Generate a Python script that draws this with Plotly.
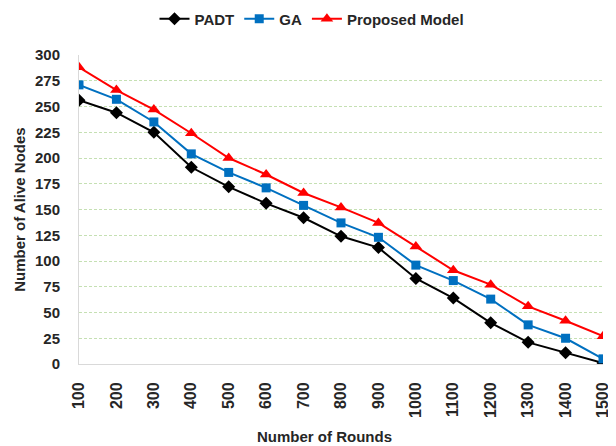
import plotly.graph_objects as go

# --- Daten ---
rounds = [100, 200, 300, 400, 500, 600, 700, 800, 900, 1000, 1100, 1200, 1300, 1400, 1500]
padt = [256, 244, 225, 191, 172, 156, 142, 124, 113, 83, 64, 40, 21, 11, 1]
ga = [271, 257, 235, 204, 186, 171, 154, 137, 123, 96, 81, 63, 38, 25, 5]
proposed = [288, 266, 247, 224, 200, 184, 166, 152, 137, 114, 91, 77, 56, 42, 27]

FONT = "Liberation Sans, Arial, sans-serif"
TXT = "#262626"

# Seite hat 8px body-margin -> Figur etwas kleiner
W, H = 608, 438

fig = go.Figure()

series = [
    ("PADT", padt, "#000000", "diamond", 10),
    ("GA", ga, "#0070c0", "square", 9),
    ("Proposed Model", proposed, "#ff0000", "triangle-up", 11),
]
for name, vals, color, sym, size in series:
    fig.add_trace(go.Scatter(
        x=rounds, y=vals, mode="lines+markers", name=f"<b>{name}</b>",
        line=dict(color=color, width=2),
        marker=dict(symbol=sym, size=size, color=color),
    ))

fig.update_layout(
    width=W, height=H,
    paper_bgcolor="white", plot_bgcolor="white",
    margin=dict(l=71, r=13, t=47, b=82, autoexpand=False),
    font=dict(family=FONT, size=14, color=TXT),
    showlegend=True,
    legend=dict(orientation="h", xref="container", x=0.5, xanchor="center",
                yref="container", y=0.975, yanchor="middle",
                font=dict(size=15, family=FONT, color=TXT),
                itemwidth=30, bgcolor="rgba(0,0,0,0)"),
    annotations=[
        dict(text="<b>Number of Rounds</b>", xref="paper", yref="paper",
             x=0.4676, y=-0.234, xanchor="center", yanchor="middle",
             showarrow=False, font=dict(size=15, family=FONT, color=TXT)),
        dict(text="<b>Number of Alive Nodes</b>", xref="paper", yref="paper",
             x=-0.1126, y=0.499, xanchor="center", yanchor="middle", textangle=-90,
             showarrow=False, font=dict(size=15, family=FONT, color=TXT)),
    ],
)

fig.update_xaxes(
    range=[100, 1500], tickvals=rounds, ticktext=[f"<b>{r}</b>" for r in rounds],
    tickangle=-90, showgrid=False, zeroline=False, automargin=False,
    showline=True, linecolor="#d9d9d9", linewidth=1, ticklabelstandoff=11,
    tickfont=dict(size=16, family=FONT, color=TXT),
)
fig.update_yaxes(
    range=[0, 300], tickvals=list(range(0, 301, 25)),
    ticktext=[f"<b>{v}</b>" for v in range(0, 301, 25)],
    showgrid=True, gridcolor="#c5e0b3", griddash="3px,2px", gridwidth=1,
    zeroline=False, showline=True, linecolor="#d9d9d9", linewidth=1, automargin=False,
    ticklabelstandoff=15,
    tickfont=dict(size=15, family=FONT, color=TXT),
)

fig.write_html("out.html")
